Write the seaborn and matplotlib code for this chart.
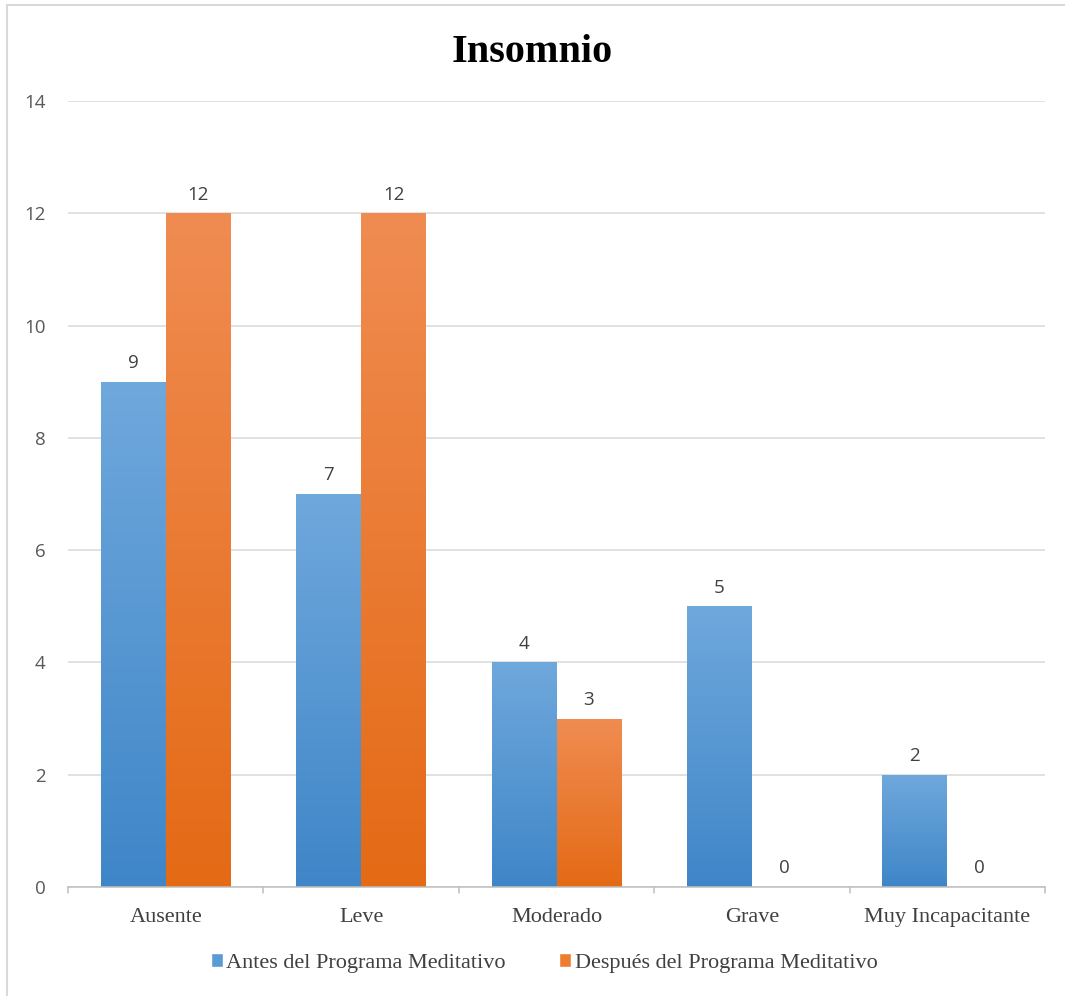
import numpy as np
import pandas as pd
import matplotlib
matplotlib.use("Agg")
import matplotlib.pyplot as plt
from matplotlib.patches import Rectangle
from matplotlib.colors import LinearSegmentedColormap
import seaborn as sns

categorias = ["Ausente", "Leve", "Moderado", "Grave", "Muy Incapacitante"]
antes = [9, 7, 4, 5, 2]
despues = [12, 12, 3, 0, 0]
series = ["Antes del Programa Meditativo", "Después del Programa Meditativo"]
y_ticks = [0, 2, 4, 6, 8, 10, 12, 14]

df = pd.DataFrame({
    "categoria": categorias * 2,
    "serie": [series[0]] * len(categorias) + [series[1]] * len(categorias),
    "valor": antes + despues,
})

sns.set_theme(style="white")
plt.rcParams["font.family"] = ["DejaVu Sans"]

colores = {series[0]: "#5B9BD5", series[1]: "#ED7D31"}
# top / bottom shades for the vertical gradient fill of each series
degradados = {
    series[0]: ("#6FA8DC", "#3F86C8"),
    series[1]: ("#F08C52", "#E46A15"),
}

fig = plt.figure(figsize=(10.65, 9.96), dpi=100)
ax = fig.add_axes([68 / 1065, 1 - 887 / 996, (1045 - 68) / 1065, (887 - 101) / 996])

sns.barplot(data=df, x="categoria", y="valor", hue="serie", order=categorias,
            hue_order=series, palette=colores, width=0.665, saturation=1,
            ax=ax, legend=False, edgecolor="none", linewidth=0)

ax.set_xlim(-0.5, len(categorias) - 0.5)
ax.set_ylim(0, 14)
ax.set_yticks(y_ticks)
ax.set_yticklabels([str(t) for t in y_ticks], family="Open Sans", fontsize=13.5, color="#595959")
ax.tick_params(axis="y", length=0, pad=16)
ax.tick_params(axis="x", length=0, pad=15)
ax.set_xticks(range(len(categorias)))
ax.set_xticklabels(categorias, family="Liberation Serif", fontsize=16, color="#404040")
ax.set_xlabel("")
ax.set_ylabel("")

ax.grid(axis="y", color="#d9d9d9", linewidth=1.1)
ax.set_axisbelow(True)
for lado in ["left", "right", "top"]:
    ax.spines[lado].set_visible(False)
ax.spines["bottom"].set_color("#bfbfbf")
ax.spines["bottom"].set_linewidth(1.1)

# small tick marks on the category boundaries
for xb in np.arange(-0.5, len(categorias), 1.0):
    ax.plot([xb, xb], [0, -0.1], color="#bfbfbf", lw=1.1, clip_on=False,
            transform=ax.transData)

# gradient fill clipped to each bar
for contenedor, serie in zip(ax.containers, series):
    top, bottom = degradados[serie]
    cmap = LinearSegmentedColormap.from_list(serie, [bottom, top])
    grad = np.linspace(0, 1, 256).reshape(-1, 1)
    for barra in contenedor:
        h = barra.get_height()
        if h <= 0:
            continue
        x0 = barra.get_x()
        w = barra.get_width()
        img = ax.imshow(grad, extent=[x0, x0 + w, 0, h], origin="lower",
                        cmap=cmap, aspect="auto", zorder=barra.get_zorder() + 0.1)
        img.set_clip_path(barra)
    ax.bar_label(contenedor, labels=[str(int(v)) for v in contenedor.datavalues],
                 padding=7, family="Open Sans", fontsize=13.5, color="#404040")

ax.set_xlim(-0.5, len(categorias) - 0.5)
ax.set_ylim(0, 14)

fig.suptitle("Insomnio", x=0.5, y=1 - 53 / 996, va="center",
             family="Liberation Serif", fontweight="bold", fontsize=29, color="black")

manejadores = [Rectangle((0, 0), 1, 1, facecolor=colores[s]) for s in series]
fig.legend(manejadores, series, loc="center", bbox_to_anchor=(544 / 1065, 1 - 963 / 996),
           ncol=2, frameon=False, prop={"family": "Liberation Serif", "size": 16},
           handlelength=0.55, handleheight=0.55, handletextpad=0.15, columnspacing=2.4,
           labelcolor="#404040")

# light border around the chart area (runs off the right and bottom edges)
fig.patches.append(Rectangle((7 / 1065, -0.02), 1.05, 1.02 - 5 / 996,
                             transform=fig.transFigure, fill=False,
                             edgecolor="#d9d9d9", linewidth=1.5))

fig.savefig("out.png", dpi=100, facecolor="white")
